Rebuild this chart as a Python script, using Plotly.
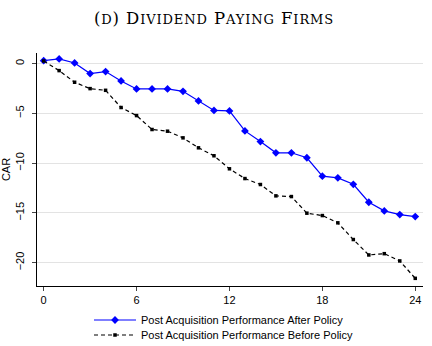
import plotly.graph_objects as go

months = list(range(0, 25))
after_policy = [0.30, 0.47, 0.07, -1.00, -0.80, -1.74, -2.54, -2.54, -2.54, -2.78, -3.75,
                -4.70, -4.75, -6.76, -7.83, -8.96, -8.96, -9.46, -11.31, -11.48, -12.13,
                -13.93, -14.80, -15.17, -15.37]
before_policy = [0.27, -0.70, -1.87, -2.51, -2.68, -4.41, -5.22, -6.62, -6.79, -7.46, -8.46,
                 -9.26, -10.57, -11.55, -12.15, -13.29, -13.36, -15.03, -15.27, -16.00, -17.68,
                 -19.23, -19.10, -19.83, -21.58]
x_ticks = [0, 6, 12, 18, 24]
y_ticks = [0, -5, -10, -15, -20]

fig = go.Figure()
fig.add_trace(go.Scatter(
    x=months, y=after_policy, mode="lines+markers",
    name="Post Acquisition Performance After Policy",
    line=dict(color="#0000ff", width=1.2),
    marker=dict(symbol="diamond", size=6, color="#0000ff"),
    legend="legend",
))
fig.add_trace(go.Scatter(
    x=months, y=before_policy, mode="lines+markers",
    name="Post Acquisition Performance Before Policy",
    line=dict(color="black", width=1.2, dash="4px,3px"),
    marker=dict(symbol="square", size=3.5, color="black"),
    legend="legend2",
))

big = "<span style='letter-spacing:0.9px'>{}</span>"
small = "<span style='font-size:13px;letter-spacing:0.9px'>{}</span>"
title = (big.format("(") + small.format("D") + big.format(") D") + small.format("IVIDEND")
         + big.format(" P") + small.format("AYING") + big.format(" F") + small.format("IRMS"))

plot_top, plot_bot = 53, 286
plot_h = plot_bot - plot_top
plot_left, plot_w = 37, 432 - 37 - 9

leg_common = dict(orientation="v", x=(89 - plot_left) / plot_w, xanchor="left",
                  yanchor="middle", font=dict(size=11),
                  bgcolor="rgba(0,0,0,0)", itemwidth=42)

fig.update_layout(
    width=432, height=346,
    margin=dict(l=37, r=9, t=53, b=60, autoexpand=False),
    paper_bgcolor="white", plot_bgcolor="white",
    font=dict(family="Liberation Sans, Arial, sans-serif", size=11, color="black"),
    title=dict(text=title, x=214 / 432, xanchor="center", y=1 - 18 / 346, yanchor="middle",
               font=dict(family="DejaVu Serif, serif", size=16.5, color="black")),
    showlegend=True,
    legend=dict(y=(plot_bot - 320) / plot_h, **leg_common),
    legend2=dict(y=(plot_bot - 335) / plot_h, **leg_common),
)
fig.update_xaxes(
    range=[-0.43, 24.5], tickvals=x_ticks, ticks="outside", ticklen=4, tickwidth=1,
    showline=True, linecolor="black", linewidth=1, showgrid=False, zeroline=False,
    tickfont=dict(size=11),
)
fig.update_yaxes(
    range=[-22.35, 1.07], tickvals=y_ticks, ticks="outside", ticklen=4, tickwidth=1,
    showline=True, linecolor="black", linewidth=1, showgrid=True, gridcolor="#e3e3e3",
    gridwidth=1, zeroline=False, tickangle=-90, tickfont=dict(size=11),
    ticklabelstandoff=4,
    title=dict(text="CAR", font=dict(size=11), standoff=1),
)

fig.write_html("out.html")
